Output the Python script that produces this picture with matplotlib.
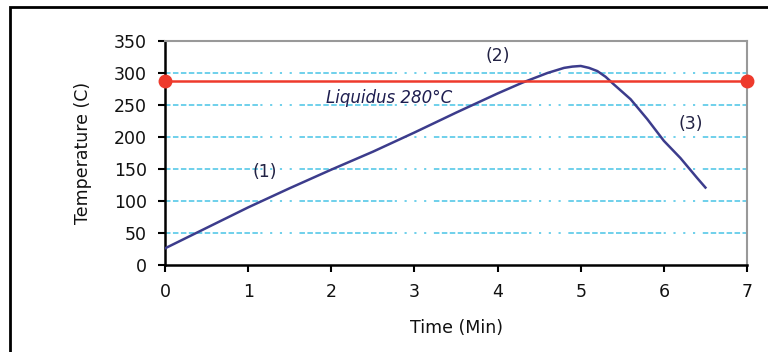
import matplotlib
matplotlib.use("Agg")
import matplotlib.pyplot as plt
from matplotlib.patches import Rectangle

time_min = [0, 0.5, 1, 1.5, 2, 2.5, 3, 3.5, 4, 4.3, 4.6, 4.8, 4.9, 5.0, 5.1, 5.2, 5.3, 5.4, 5.6, 5.8, 6.0, 6.2, 6.4, 6.5]
temperature = [26, 58, 90, 120, 149, 177, 207, 238, 268, 285, 300, 308, 310, 311, 308, 303, 294, 282, 259, 228, 194, 167, 136, 121]
liquidus_x = [0, 7]
liquidus_y = [287, 287]
liquidus_label = "Liquidus 280°C"
stage_labels = ["(1)", "(2)", "(3)"]
stage_pos = [(1.2, 145), (4.0, 326), (6.32, 220)]
xticks = [0, 1, 2, 3, 4, 5, 6, 7]
yticks = [0, 50, 100, 150, 200, 250, 300, 350]

plt.rcParams['font.family'] = ['DejaVu Sans']

fig = plt.figure(figsize=(7.68, 3.52), dpi=100)
fig.patch.set_facecolor('white')
W, H = 768, 352
fig.add_artist(Rectangle((10 / W, -0.1), 1.2, 1 - 7 / H + 0.1, transform=fig.transFigure,
                         fill=False, edgecolor='black', linewidth=2))

ax = fig.add_axes([165 / W, 1 - 265 / H, (747 - 165) / W, (265 - 41) / H])

dash = (0, (3.6, 1.6) * 12 + (1.4, 5.0) * 5)
for yv in yticks[1:-1]:
    ax.axhline(yv, color='#48c4e6', linewidth=1.1, linestyle=dash, zorder=1)

ax.plot(liquidus_x, liquidus_y, color='#ee3a2c', linewidth=1.8, marker='o', markersize=9,
        clip_on=False, zorder=4)
ax.plot(time_min, temperature, color='#3c3c8c', linewidth=1.8, zorder=3)

ax.text(2.69, 261, liquidus_label, fontsize=12, style='italic', color='#1e1e50',
        ha='center', va='center')
for lab, (x, y) in zip(stage_labels, stage_pos):
    ax.text(x, y, lab, fontsize=12.5, color='#222244', ha='center', va='center')

ax.set_xlim(0, 7)
ax.set_ylim(0, 350)
ax.set_xticks(xticks)
ax.set_yticks(yticks)
ax.tick_params(axis='both', direction='out', length=5, width=1.5, labelsize=12.5, pad=8,
               color='black', labelcolor='#111111')
for s in ['left', 'bottom']:
    ax.spines[s].set_color('black')
    ax.spines[s].set_linewidth(1.8)
for s in ['top', 'right']:
    ax.spines[s].set_color('#999999')
    ax.spines[s].set_linewidth(1.5)

ax.set_xlabel('Time (Min)', fontsize=12.5, labelpad=13, color='#111111')
ax.set_ylabel('Temperature (C)', fontsize=12.5, labelpad=16, color='#111111')

fig.savefig('out.png', dpi=100)
